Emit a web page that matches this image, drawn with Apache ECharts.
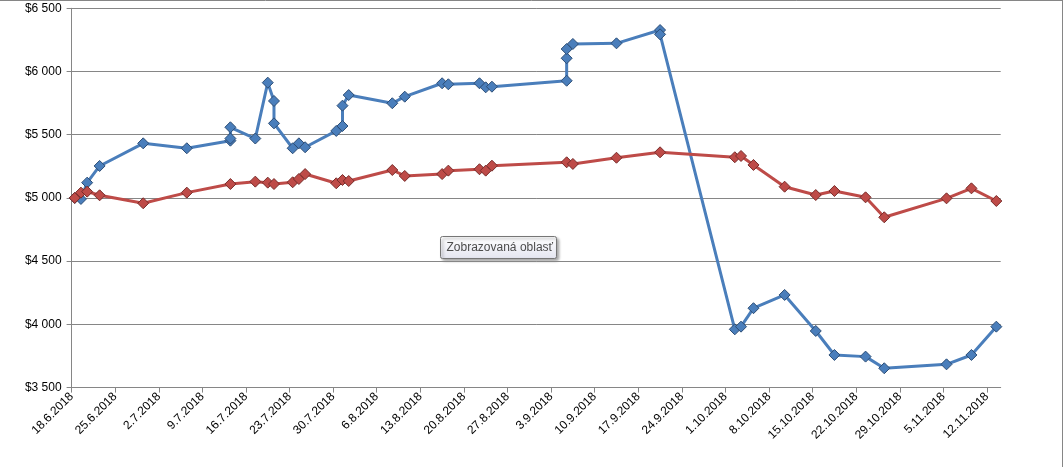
<!DOCTYPE html>
<html>
<head>
<meta charset="utf-8">
<title>Chart</title>
<script src="https://cdn.jsdelivr.net/npm/echarts@6/dist/echarts.min.js"></script>
<style>
  html, body { margin: 0; padding: 0; background: #fff; }
  #chart { width: 1064px; height: 467px; }
</style>
</head>
<body>
<div id="chart"></div>
<script>
// x axis starts here, ticks every week
const startDate = "2018-06-18";
const tickLabels = [
  "18.6.2018", "25.6.2018", "2.7.2018", "9.7.2018", "16.7.2018", "23.7.2018",
  "30.7.2018", "6.8.2018", "13.8.2018", "20.8.2018", "27.8.2018", "3.9.2018",
  "10.9.2018", "17.9.2018", "24.9.2018", "1.10.2018", "8.10.2018", "15.10.2018",
  "22.10.2018", "29.10.2018", "5.11.2018", "12.11.2018"
];
const yTicks = [3500, 4000, 4500, 5000, 5500, 6000, 6500];

// blue series (some dates repeat)
const blueDates = [
  "2018-06-18", "2018-06-19", "2018-06-20", "2018-06-22", "2018-06-29", "2018-07-06",
  "2018-07-13", "2018-07-13", "2018-07-13", "2018-07-17", "2018-07-19", "2018-07-20",
  "2018-07-20", "2018-07-23", "2018-07-24", "2018-07-25", "2018-07-30", "2018-07-31",
  "2018-07-31", "2018-08-01", "2018-08-08", "2018-08-10", "2018-08-16", "2018-08-17",
  "2018-08-22", "2018-08-23", "2018-08-24", "2018-09-05", "2018-09-05", "2018-09-05",
  "2018-09-06", "2018-09-13", "2018-09-20", "2018-09-20", "2018-10-02", "2018-10-03",
  "2018-10-05", "2018-10-10", "2018-10-15", "2018-10-18", "2018-10-23", "2018-10-26",
  "2018-11-05", "2018-11-09", "2018-11-13"
];
const blueValues = [
  5000, 4992, 5121, 5253, 5432, 5393,
  5453, 5470, 5559, 5470, 5912, 5767,
  5590, 5393, 5432, 5401, 5530, 5569,
  5730, 5814, 5749, 5801, 5907, 5899,
  5907, 5875, 5880, 5927, 6105, 6178,
  6218, 6223, 6328, 6294, 3961, 3982,
  4128, 4233, 3948, 3758, 3745, 3653,
  3684, 3758, 3982
];

// red series
const redDates = [
  "2018-06-18", "2018-06-19", "2018-06-20", "2018-06-22", "2018-06-29", "2018-07-06",
  "2018-07-13", "2018-07-17", "2018-07-19", "2018-07-20", "2018-07-23", "2018-07-24",
  "2018-07-25", "2018-07-30", "2018-07-31", "2018-08-01", "2018-08-08", "2018-08-10",
  "2018-08-16", "2018-08-17", "2018-08-22", "2018-08-23", "2018-08-24", "2018-09-05",
  "2018-09-06", "2018-09-13", "2018-09-20", "2018-10-02", "2018-10-03", "2018-10-05",
  "2018-10-10", "2018-10-15", "2018-10-18", "2018-10-23", "2018-10-26", "2018-11-05",
  "2018-11-09", "2018-11-13"
];
const redValues = [
  5000, 5042, 5050, 5021, 4958, 5042,
  5110, 5129, 5121, 5110, 5124, 5150,
  5189, 5116, 5142, 5134, 5221, 5174,
  5189, 5216, 5227, 5216, 5255, 5282,
  5269, 5318, 5361, 5322, 5332, 5261,
  5089, 5023, 5055, 5005, 4847, 4997,
  5076, 4976
];

const DAY = 86400000;
const t0 = Date.parse(startDate + "T00:00:00Z");

// excel date axis puts each point in the middle of its day
function toDay(iso) {
  return (Date.parse(iso + "T00:00:00Z") - t0) / DAY + 0.5;
}
function dayLabel(v) {
  const d = new Date(t0 + Math.round(v) * DAY);
  return d.getUTCDate() + "." + (d.getUTCMonth() + 1) + "." + d.getUTCFullYear();
}
function money(v) {
  const s = String(v);
  return "$" + s.slice(0, s.length - 3) + " " + s.slice(-3);
}

const tickDays = tickLabels.map((_, i) => i * 7);
const blueData = blueDates.map((d, i) => [toDay(d), blueValues[i]]);
const redData = redDates.map((d, i) => [toDay(d), redValues[i]]);

const font = "Liberation Sans";
const grey = "#868686";

const chart = echarts.init(document.getElementById("chart"));
chart.setOption({
  animation: false,
  grid: { left: 71.6, right: 63.3, top: 8.3, bottom: 79.4, containLabel: false },
  xAxis: {
    type: "value",
    min: 0,
    max: 149.2,
    axisLine: { show: true, lineStyle: { color: grey, width: 1 } },
    axisTick: { show: true, length: 5, customValues: tickDays, lineStyle: { color: grey } },
    axisLabel: {
      customValues: tickDays,
      rotate: 45,
      margin: 7,
      fontFamily: font,
      fontSize: 12,
      color: "#000",
      formatter: v => dayLabel(v)
    },
    splitLine: { show: false }
  },
  yAxis: {
    type: "value",
    min: yTicks[0],
    max: yTicks[yTicks.length - 1],
    interval: 500,
    axisLine: { show: true, lineStyle: { color: grey, width: 1 } },
    axisTick: { show: true, length: 5, lineStyle: { color: grey } },
    axisLabel: {
      margin: 10,
      fontFamily: font,
      fontSize: 12,
      color: "#000",
      formatter: v => money(v)
    },
    splitLine: { show: true, lineStyle: { color: grey, width: 1 } }
  },
  series: [
    {
      name: "blue",
      type: "line",
      data: blueData,
      symbol: "diamond",
      symbolSize: 11,
      lineStyle: { color: "#4a7ebb", width: 3 },
      itemStyle: { color: "#4a7ebb", borderColor: "#2c4d75", borderWidth: 1 },
      z: 2
    },
    {
      name: "red",
      type: "line",
      data: redData,
      symbol: "diamond",
      symbolSize: 11,
      lineStyle: { color: "#be4b48", width: 3 },
      itemStyle: { color: "#be4b48", borderColor: "#772c2a", borderWidth: 1 },
      z: 3
    }
  ],
  graphic: [
    // chart area border (top and right edges show in the picture)
    { type: "line", shape: { x1: 0, y1: 0.5, x2: 1062.5, y2: 0.5 }, style: { stroke: grey, lineWidth: 1 } },
    { type: "line", shape: { x1: 1062.5, y1: 0, x2: 1062.5, y2: 467 }, style: { stroke: grey, lineWidth: 1 } },
    {
      type: "group",
      left: 440,
      top: 236,
      children: [
        {
          type: "rect",
          shape: { x: 0, y: 0, width: 116, height: 22, r: 2 },
          style: {
            fill: new echarts.graphic.LinearGradient(0, 0, 0, 1, [
              { offset: 0, color: "#ffffff" },
              { offset: 1, color: "#e4e5f0" }
            ]),
            stroke: "#767676",
            lineWidth: 1,
            shadowBlur: 3,
            shadowOffsetX: 2,
            shadowOffsetY: 2,
            shadowColor: "rgba(0,0,0,0.35)"
          }
        },
        {
          type: "text",
          x: 6,
          y: 5,
          style: { text: "Zobrazovaná oblasť", font: "12px Liberation Sans", fill: "#4c4c4c" }
        }
      ]
    }
  ]
});
</script>
</body>
</html>
